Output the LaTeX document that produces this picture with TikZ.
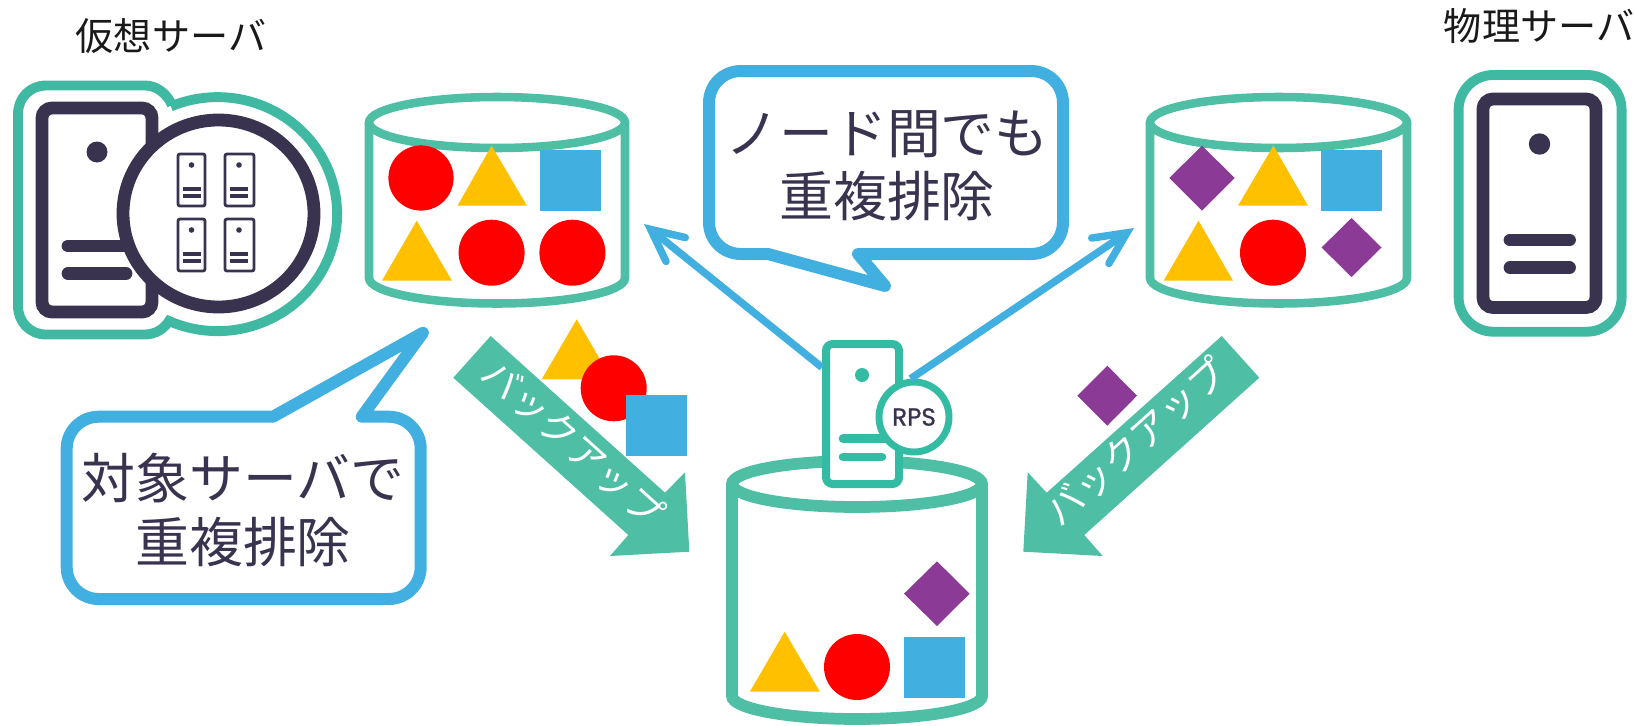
\documentclass[tikz,border=0pt]{standalone}
\usepackage{fontspec}
\usepackage{tikz}
\usetikzlibrary{arrows.meta}
\setmainfont{Noto Sans CJK JP}
\newfontfamily\rpsfont[FakeBold=1]{Poppins}
\definecolor{canGreen}{HTML}{4EBFA5}
\definecolor{rimGreen}{HTML}{40B9A3}
\definecolor{rpsGreen}{HTML}{33BBA3}
\definecolor{inkDark}{HTML}{3A3350}
\definecolor{skyBlue}{HTML}{41AFDF}
\definecolor{markRed}{HTML}{FF0000}
\definecolor{markYellow}{HTML}{FFC000}
\definecolor{markPurple}{HTML}{8B3A96}

\begin{document}
\begin{tikzpicture}[x=0.75pt,y=0.75pt,yscale=-1,xscale=1,
    canline/.style={draw=canGreen,line width=6.4pt},
    canbig/.style={draw=canGreen,line width=8.8pt},
    rimline/.style={draw=rimGreen,line width=7.4pt},
    darkbody/.style={draw=inkDark,fill=white,line width=9.6pt,rounded corners=7.5pt},
    darkbar/.style={draw=inkDark,line width=9.6pt,line cap=round},
    minibody/.style={draw=inkDark,fill=white,line width=2.1pt,rounded corners=1.5pt},
    minibar/.style={draw=inkDark,line width=2.6pt},
    callout/.style={draw=skyBlue,fill=white,line width=9pt,line join=round},
    bluearrow/.style={draw=skyBlue,line width=5.6pt,-{Straight Barb[length=24pt,width=23pt,line cap=round,line join=miter]}},
    blockarrow/.style={fill=canGreen},
    rpsbar/.style={draw=rpsGreen,line width=6.5pt,line cap=round},
    labeltext/.style={inner sep=0.75pt,text=black!90,font=\fontsize{28.6}{34}\selectfont},
    callouttext/.style={inner sep=0.75pt,text=inkDark,align=center,font=\fontsize{40.4}{47.4}\selectfont},
    backuptext/.style={inner sep=0.75pt,text=white,font=\fontsize{28.5}{34}\selectfont}]
\useasboundingbox (0,0) rectangle (1635,725);
% Text Node
\node (labelVirtual) [labeltext] at (171,36) {仮想サーバ};
\node (labelPhysical) [labeltext] at (1539,26) {物理サーバ};

%Shape: Virtual server rim
\draw [rimline] (172,105) .. controls (167,94) and (157,85.5) .. (145,85.5) -- (46,85.5) .. controls (30,85.5) and (18,98) .. (18,114)
    -- (18,306) .. controls (18,322) and (30,334.5) .. (46,334.5) -- (145,334.5) .. controls (155,334.5) and (164,329) .. (169,321)
    arc [start angle=114,end angle=-113,x radius=119.5,y radius=117];
%Shape: Virtual server body
\draw [darkbody] (42,108) rectangle (152,312);
\fill [inkDark] (97,152) circle (10.5);
\draw [darkbar] (68,246) -- (126,246);
\draw [darkbar] (68,273.5) -- (126,273.5);
%Shape: Magnifier
\draw [draw=inkDark,fill=white,line width=9.6pt] (218.5,213.5) ellipse [x radius=95.5,y radius=93.5];
%Shape: Mini servers
\draw [minibody] (178,154) rectangle (205,206);
\fill [inkDark] (191.5,165) circle (2.8);
\draw [minibar] (183,189) -- (201,189);
\draw [minibar] (183,196) -- (201,196);
\draw [minibody] (225,154) rectangle (254,206);
\fill [inkDark] (239,165) circle (2.8);
\draw [minibar] (230,189) -- (248,189);
\draw [minibar] (230,196) -- (248,196);
\draw [minibody] (178,219) rectangle (205,271);
\fill [inkDark] (191.5,230) circle (2.8);
\draw [minibar] (183,254) -- (201,254);
\draw [minibar] (183,261) -- (201,261);
\draw [minibody] (225,219) rectangle (254,271);
\fill [inkDark] (239,230) circle (2.8);
\draw [minibar] (230,254) -- (248,254);
\draw [minibar] (230,261) -- (248,261);

%Shape: Left can
\draw [canline] (497,122.5) ellipse [x radius=128,y radius=25.5];
\draw [canline] (369,122.5) -- (369,278) arc [start angle=180,end angle=0,x radius=128,y radius=25.5] -- (625,122.5);
\fill [markRed] (421,178) circle (32.6);
\fill [markYellow] (491.6,145.7) -- (527,205.7) -- (457.5,205.7) -- cycle;
\fill [skyBlue] (540,150) rectangle (601,211);
\fill [markYellow] (416.7,220.7) -- (452,280.7) -- (382,280.7) -- cycle;
\fill [markRed] (491.6,252.7) circle (33);
\fill [markRed] (572.4,252.7) circle (33);

%Shape: Right can
\draw [canline] (1278.5,122.5) ellipse [x radius=128.5,y radius=25.5];
\draw [canline] (1150,122.5) -- (1150,278) arc [start angle=180,end angle=0,x radius=128.5,y radius=25.5] -- (1407,122.5);
\fill [markPurple] (1202,145.7) -- (1234.7,178) -- (1202,210.7) -- (1169.3,178) -- cycle;
\fill [markYellow] (1273.4,145.7) -- (1308,205.7) -- (1238,205.7) -- cycle;
\fill [skyBlue] (1321,150) rectangle (1382,211);
\fill [markYellow] (1198.5,220.7) -- (1233,280.7) -- (1163.6,280.7) -- cycle;
\fill [markRed] (1273,252.7) circle (33);
\fill [markPurple] (1351.5,218) -- (1381.5,247.5) -- (1351.5,277) -- (1321.6,247.5) -- cycle;

%Shape: Physical server
\draw [rimline,rounded corners=26pt] (1458.6,75) rectangle (1621.6,331.7);
\draw [darkbody] (1483,99) rectangle (1596,307.5);
\fill [inkDark] (1539.5,144) circle (10.7);
\draw [darkbar] (1510,240) -- (1569.5,240);
\draw [darkbar] (1510,267.7) -- (1569.5,267.7);

%Shape: Node callout
\draw [callout] (741,71) -- (1031,71) .. controls (1049,71) and (1063,85) .. (1063,103) -- (1063,222) .. controls (1063,240) and (1049,254) .. (1031,254)
    -- (858,254) -- (885,286) -- (768,254) -- (741,254) .. controls (723,254) and (709,240) .. (709,222) -- (709,103) .. controls (709,85) and (723,71) .. (741,71) -- cycle;
% Text Node
\node (calloutNodeText) [callouttext] at (887,166) {ノード間でも\\重複排除};

%Shape: Target callout
\draw [callout] (98.7,416.7) -- (273,416.7) -- (423,332.7) -- (361.7,416.7) -- (388.7,416.7) .. controls (406.4,416.7) and (420.7,431) .. (420.7,448.7)
    -- (420.7,567) .. controls (420.7,584.7) and (406.4,599) .. (388.7,599) -- (98.7,599) .. controls (81,599) and (66.7,584.7) .. (66.7,567)
    -- (66.7,448.7) .. controls (66.7,431) and (81,416.7) .. (98.7,416.7) -- cycle;
% Text Node
\node (calloutTargetText) [callouttext] at (243,510) {対象サーバで\\重複排除};

%Shape: Left backup marks
\fill [markYellow] (576.7,319.3) -- (611.7,379.3) -- (541.7,379.3) -- cycle;
\fill [markRed] (613.7,388.3) circle (33);
%Shape: Left block arrow
\fill [blockarrow] (490.7,336) -- (453.3,377.7) -- (628.3,535) -- (610,556) -- (689.3,551.7) -- (685,472.3) -- (665,492.7) -- cycle;
\fill [skyBlue] (626,395) rectangle (687,456);
\node (backupLeft) [backuptext,rotate=-42] at (573.3,442.7) {バックアップ};

%Shape: Right block arrow
\fill [markPurple] (1107.3,365.7) -- (1137,395.7) -- (1107.3,425.7) -- (1077.3,395.7) -- cycle;
\fill [blockarrow] (1221.7,336) -- (1259.3,377.7) -- (1084.3,535) -- (1102.7,556) -- (1023.3,551.7) -- (1027.7,472.3) -- (1046.7,492.7) -- cycle;
\node (backupRight) [backuptext,rotate=42] at (1136,441.7) {バックアップ};

%Shape: Centre can
\draw [canbig] (857,484) ellipse [x radius=125,y radius=23];
\draw [canbig] (732,484) -- (732,696) arc [start angle=180,end angle=0,x radius=125,y radius=23] -- (982,484);
\fill [markYellow] (784.7,631.7) -- (819.9,691.7) -- (749.9,691.7) -- cycle;
\fill [markRed] (857,667) circle (33);
\fill [skyBlue] (904,637) rectangle (965,698);
\fill [markPurple] (937,561.3) -- (969.6,593.7) -- (937,626) -- (904,593.7) -- cycle;

%Shape: RPS server
\node (rpsBody) [draw=rpsGreen,fill=white,line width=6pt,rounded corners=5pt,minimum width=54.75pt,minimum height=105pt] at (862.5,414) {};
\fill [rpsGreen] (862,375) circle (7);
\draw [rpsbar] (843,438.7) -- (890,438.7);
\draw [rpsbar] (843,457) -- (882,457);
\node (rpsBadge) [circle,draw=rpsGreen,fill=white,line width=5.2pt,minimum size=52.5pt,inner sep=0pt,text=inkDark,font=\rpsfont\fontsize{18.5}{20}\selectfont] at (914,417) {RPS};

%Straight Lines
\coordinate (tipLeft) at (644,224);
\coordinate (tipRight) at (1134,228);
\draw [bluearrow] (rpsBody.131) -- (tipLeft);
\draw [bluearrow] (rpsBadge.95) -- (tipRight);
\end{tikzpicture}
\end{document}
